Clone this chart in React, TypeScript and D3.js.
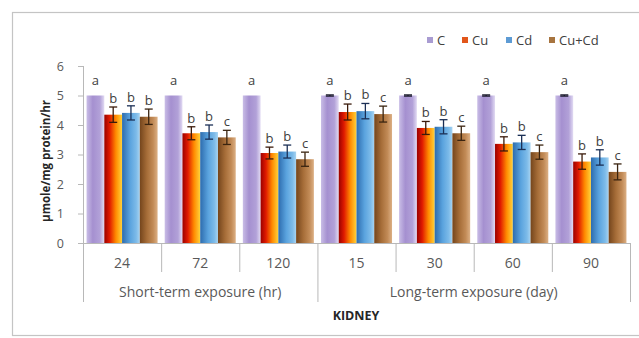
import React from "react";
import * as d3 from "d3";

// Enzyme activity in kidney tissue (µmole/mg protein/hr)
const categories = ["24", "72", "120", "15", "30", "60", "90"];
const groupLabels = ["Short-term exposure (hr)", "Long-term exposure (day)"];
const groupSizes = [3, 4];
const seriesNames = ["C", "Cu", "Cd", "Cu+Cd"];

const valuesC = [5, 5, 5, 5, 5, 5, 5];
const valuesCu = [4.35, 3.72, 3.05, 4.44, 3.9, 3.36, 2.76];
const valuesCd = [4.41, 3.76, 3.1, 4.47, 3.94, 3.41, 2.9];
const valuesCuCd = [4.28, 3.58, 2.84, 4.37, 3.72, 3.08, 2.41];

const errC = [0, 0, 0, 0.02, 0.02, 0.02, 0.02];
const errCu = [0.26, 0.22, 0.2, 0.27, 0.22, 0.24, 0.26];
const errCd = [0.24, 0.24, 0.22, 0.26, 0.24, 0.24, 0.26];
const errCuCd = [0.26, 0.24, 0.24, 0.27, 0.24, 0.24, 0.27];

const lettersC = ["a", "a", "a", "a", "a", "a", "a"];
const lettersCu = ["b", "b", "b", "b", "b", "b", "b"];
const lettersCd = ["b", "b", "b", "b", "b", "b", "b"];
const lettersCuCd = ["b", "c", "c", "c", "c", "c", "c"];

const yTicks = [0, 1, 2, 3, 4, 5, 6];

const seriesValues = [valuesC, valuesCu, valuesCd, valuesCuCd];
const seriesErrors = [errC, errCu, errCd, errCuCd];
const seriesLetters = [lettersC, lettersCu, lettersCd, lettersCuCd];

// horizontal gradient stops per series
const gradients: [number, string][][] = [
  [[0, "#c9bde6"], [0.35, "#a590d0"], [0.75, "#b2a1d8"], [1, "#e2dbf3"]],
  [[0, "#9a0000"], [0.3, "#e01a00"], [0.65, "#ff8a00"], [1, "#ffd23a"]],
  [[0, "#2d6cae"], [0.45, "#5aa3de"], [0.8, "#7dbbe9"], [1, "#a7d3f1"]],
  [[0, "#74451c"], [0.4, "#a66d38"], [0.75, "#c28b57"], [1, "#dcb085"]],
];
const legendColors = ["#a99cd2", "#e2561a", "#5d9bd4", "#a7743f"];
const errColors = ["#1a1a2a", "#3a1a0a", "#1b2f55", "#3a2410"];

const FONT = "'Open Sans', Lato, sans-serif";

export default function App() {
  const width = 639;
  const height = 338;
  const x0 = 83;
  const x1 = 630;
  const yBase = 243;
  const yTop = 66;

  const x = d3.scaleBand<string>().domain(categories.map((_, i) => String(i))).range([x0, x1]).paddingInner(0).paddingOuter(0);
  const xs = d3
    .scaleBand<string>()
    .domain(seriesNames)
    .range([0, x.bandwidth()])
    .paddingInner(0)
    .paddingOuter(0.2);
  const y = d3.scaleLinear().domain([0, 6]).range([yBase, yTop]);

  const bw = xs.bandwidth();

  // group boundaries
  const groupEdges: number[] = [0];
  groupSizes.forEach((s) => groupEdges.push(groupEdges[groupEdges.length - 1] + s));

  const axisColor = "#b8b8b8";

  return (
    <svg width={width} height={height} style={{ position: "absolute", left: 0, top: 0, background: "#fff" }}>
      <defs>
        {gradients.map((stops, si) => (
          <linearGradient key={si} id={`grad${si}`} x1="0" x2="1" y1="0" y2="0">
            {stops.map(([o, c], k) => (
              <stop key={k} offset={o} stopColor={c} />
            ))}
          </linearGradient>
        ))}
      </defs>

      {/* chart frame */}
      <rect x={12.5} y={12.5} width={680} height={323} fill="none" stroke="#c4c4c4" strokeWidth={1.2} />

      {/* legend */}
      {(() => {
        const lx = [427, 462, 506, 549];
        return seriesNames.map((n, i) => (
          <g key={n}>
            <rect x={lx[i]} y={37} width={6} height={6} fill={legendColors[i]} />
            <text x={lx[i] + 10} y={45} fontFamily={FONT} fontSize={13} fill="#404040">
              {n}
            </text>
          </g>
        ));
      })()}

      {/* y axis */}
      <line x1={x0 + 0.5} x2={x0 + 0.5} y1={yTop} y2={yBase} stroke={axisColor} />
      {yTicks.map((t) => (
        <g key={t}>
          <line x1={x0 - 5} x2={x0} y1={y(t) + 0.5} y2={y(t) + 0.5} stroke={axisColor} />
          <text x={x0 - 19} y={y(t) + 4.5} textAnchor="end" fontFamily={FONT} fontSize={12.5} fill="#595959">
            {t}
          </text>
        </g>
      ))}
      <text
        transform="translate(50,161) rotate(-90)"
        textAnchor="middle"
        fontFamily={FONT}
        fontSize={11.5}
        fontWeight="bold"
        fill="#262626"
      >
        µmole/mg protein/hr
      </text>

      {/* bars */}
      {categories.map((c, ci) => {
        const gx = x(String(ci))!;
        return (
          <g key={c}>
            {seriesNames.map((s, si) => {
              const v = seriesValues[si][ci];
              const e = seriesErrors[si][ci];
              const bx = gx + xs(s)!;
              const cx = bx + bw / 2;
              const top = y(v);
              const labelY = si === 0 ? top - 11 : y(v + e) - 4;
              return (
                <g key={s}>
                  <rect x={bx} y={top} width={bw} height={yBase - top} fill={`url(#grad${si})`} />
                  {si === 0 && e === 0 ? null : (
                    <g stroke={errColors[si]} strokeWidth={1.3}>
                      <line x1={cx} x2={cx} y1={y(v + e)} y2={y(v - e)} />
                      <line x1={cx - 4} x2={cx + 4} y1={y(v + e)} y2={y(v + e)} />
                      <line x1={cx - 4} x2={cx + 4} y1={y(v - e)} y2={y(v - e)} />
                    </g>
                  )}
                  <text x={cx} y={labelY} textAnchor="middle" fontFamily={FONT} fontSize={13} fill="#404040">
                    {seriesLetters[si][ci]}
                  </text>
                </g>
              );
            })}
          </g>
        );
      })}

      {/* x axis */}
      <line x1={x0} x2={x1} y1={yBase + 0.5} y2={yBase + 0.5} stroke={axisColor} />
      {categories.map((c, ci) => {
        const gx = x(String(ci))!;
        return (
          <text key={c} x={gx + x.bandwidth() / 2} y={268} textAnchor="middle" fontFamily={FONT} fontSize={14} fill="#595959">
            {c}
          </text>
        );
      })}
      {d3.range(categories.length + 1).map((i) => {
        const isGroup = groupEdges.includes(i);
        const px = i < categories.length ? x(String(i))! : x1;
        return (
          <line key={i} x1={px + 0.5} x2={px + 0.5} y1={yBase} y2={isGroup ? 302 : 272} stroke={axisColor} />
        );
      })}
      {groupLabels.map((g, gi) => {
        const a = x(String(groupEdges[gi]))!;
        const b = groupEdges[gi + 1] < categories.length ? x(String(groupEdges[gi + 1]))! : x1;
        return (
          <text key={g} x={(a + b) / 2} y={297} textAnchor="middle" fontFamily={FONT} fontSize={14} fill="#595959">
            {g}
          </text>
        );
      })}
      <text x={356} y={320} textAnchor="middle" fontFamily={FONT} fontSize={12.5} fontWeight="bold" fill="#262626">
        KIDNEY
      </text>
    </svg>
  );
}
